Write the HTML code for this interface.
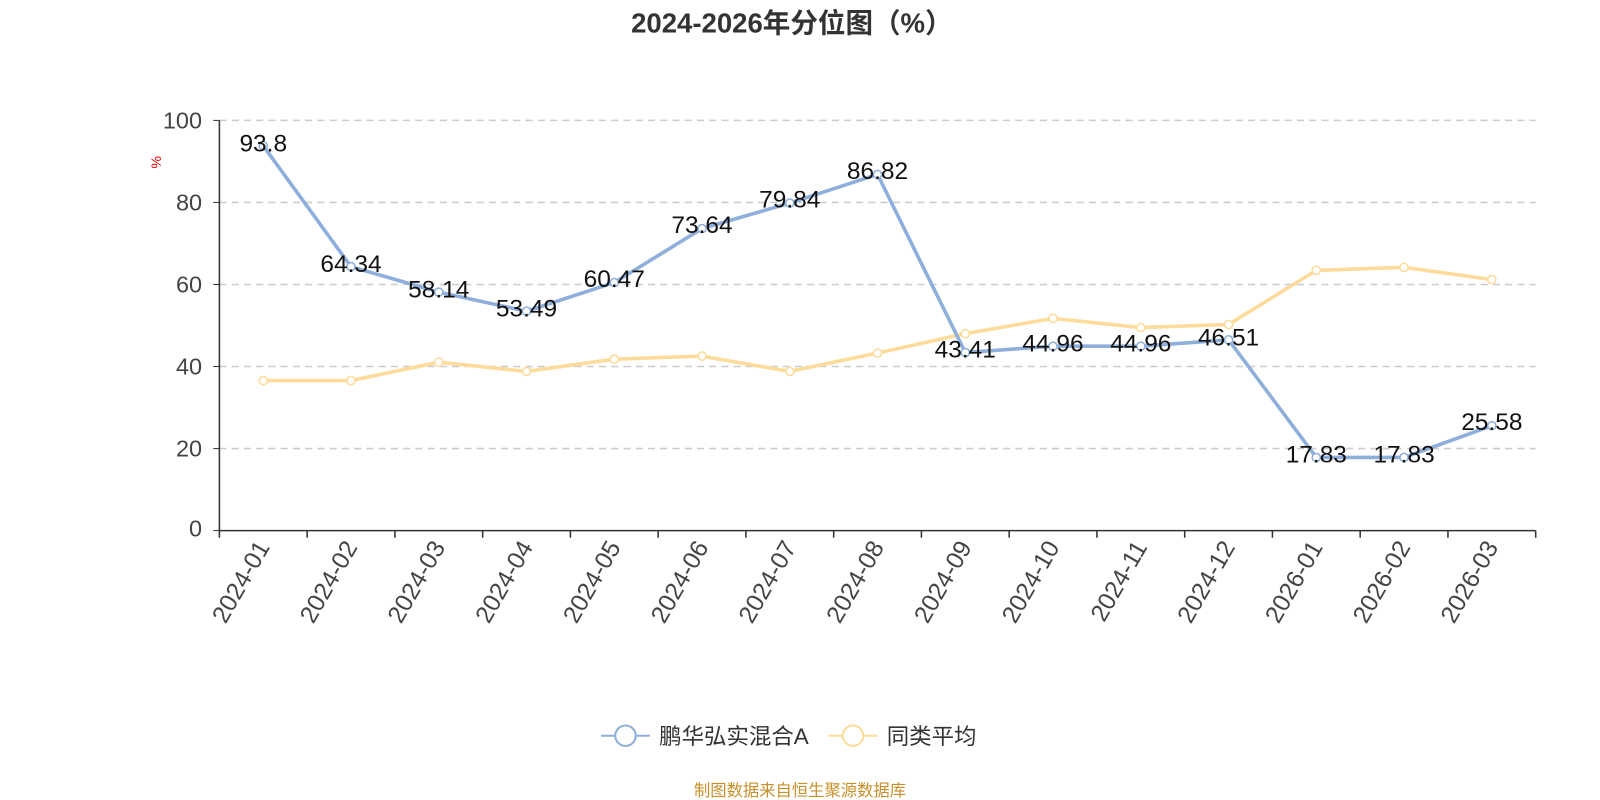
<!DOCTYPE html>
<html><head><meta charset="utf-8"><style>
body{margin:0;background:#fff;}
svg{display:block;font-family:"Liberation Sans","Noto Sans CJK SC",sans-serif;}
</style></head><body>
<svg width="1600" height="800" viewBox="0 0 1600 800">
<g transform="scale(1.0204)">
<text x="776" y="32" text-anchor="middle" font-size="27" font-weight="bold" fill="#333">2024-2026年分位图（%）</text>
<text x="158" y="159" font-size="14" fill="red" transform="rotate(-90 158 159)" text-anchor="middle">%</text>
<g stroke="#ccc" stroke-dasharray="7,5" stroke-width="1.5">
<line x1="215" x2="1505" y1="118" y2="118"/><line x1="215" x2="1505" y1="198.4" y2="198.4"/><line x1="215" x2="1505" y1="278.8" y2="278.8"/><line x1="215" x2="1505" y1="359.2" y2="359.2"/><line x1="215" x2="1505" y1="439.6" y2="439.6"/>
</g>
<g font-size="23" fill="#444" text-anchor="end" dominant-baseline="central">
<text x="198" y="118">100</text><text x="198" y="198.4">80</text><text x="198" y="278.8">60</text><text x="198" y="359.2">40</text><text x="198" y="439.6">20</text><text x="198" y="518">0</text>
</g>
<line x1="215" y1="118" x2="215" y2="520" stroke="#333" stroke-width="1.5"/>
<line x1="209" y1="118" x2="215" y2="118" stroke="#333"/><line x1="209" y1="198.4" x2="215" y2="198.4" stroke="#333"/><line x1="209" y1="278.8" x2="215" y2="278.8" stroke="#333"/><line x1="209" y1="359.2" x2="215" y2="359.2" stroke="#333"/><line x1="209" y1="439.6" x2="215" y2="439.6" stroke="#333"/><line x1="209" y1="520" x2="215" y2="520" stroke="#333"/>
<line x1="215" y1="520" x2="1505" y2="520" stroke="#333" stroke-width="1.5"/>
<g stroke="#333" stroke-width="1.5">
<line x1="215" x2="215" y1="520" y2="527"/><line x1="301" x2="301" y1="520" y2="527"/><line x1="387" x2="387" y1="520" y2="527"/><line x1="473" x2="473" y1="520" y2="527"/><line x1="559" x2="559" y1="520" y2="527"/><line x1="645" x2="645" y1="520" y2="527"/><line x1="731" x2="731" y1="520" y2="527"/><line x1="817" x2="817" y1="520" y2="527"/><line x1="903" x2="903" y1="520" y2="527"/><line x1="989" x2="989" y1="520" y2="527"/><line x1="1075" x2="1075" y1="520" y2="527"/><line x1="1161" x2="1161" y1="520" y2="527"/><line x1="1247" x2="1247" y1="520" y2="527"/><line x1="1333" x2="1333" y1="520" y2="527"/><line x1="1419" x2="1419" y1="520" y2="527"/><line x1="1505" x2="1505" y1="520" y2="527"/>
</g>
<g font-size="24" fill="#444" text-anchor="end">
<text transform="translate(265,536) rotate(-60)">2024-01</text>
<text transform="translate(351,536) rotate(-60)">2024-02</text>
<text transform="translate(437,536) rotate(-60)">2024-03</text>
<text transform="translate(523,536) rotate(-60)">2024-04</text>
<text transform="translate(609,536) rotate(-60)">2024-05</text>
<text transform="translate(695,536) rotate(-60)">2024-06</text>
<text transform="translate(781,536) rotate(-60)">2024-07</text>
<text transform="translate(867,536) rotate(-60)">2024-08</text>
<text transform="translate(953,536) rotate(-60)">2024-09</text>
<text transform="translate(1039,536) rotate(-60)">2024-10</text>
<text transform="translate(1125,536) rotate(-60)">2024-11</text>
<text transform="translate(1211,536) rotate(-60)">2024-12</text>
<text transform="translate(1297,536) rotate(-60)">2026-01</text>
<text transform="translate(1383,536) rotate(-60)">2026-02</text>
<text transform="translate(1469,536) rotate(-60)">2026-03</text>
</g>
<polyline fill="none" stroke="#fddb9a" stroke-width="3.5" points="258,373 344,373 430,355 516,364 602,352 688,349 774,364 860,346 946,327 1032,312 1118,321 1204,318 1290,265 1376,262 1462,274"/>
<g fill="#fff" stroke="#fddb9a" stroke-width="1.5">
<circle cx="258" cy="373" r="4"/><circle cx="344" cy="373" r="4"/><circle cx="430" cy="355" r="4"/><circle cx="516" cy="364" r="4"/><circle cx="602" cy="352" r="4"/><circle cx="688" cy="349" r="4"/><circle cx="774" cy="364" r="4"/><circle cx="860" cy="346" r="4"/><circle cx="946" cy="327" r="4"/><circle cx="1032" cy="312" r="4"/><circle cx="1118" cy="321" r="4"/><circle cx="1204" cy="318" r="4"/><circle cx="1290" cy="265" r="4"/><circle cx="1376" cy="262" r="4"/><circle cx="1462" cy="274" r="4"/>
</g>
<polyline fill="none" stroke="#8eaedb" stroke-width="3.5" points="258,142.9 344,261.4 430,286.3 516,305 602,276.9 688,224 774,199 860,171 946,345.5 1032,339.3 1118,339.3 1204,333 1290,448.3 1376,448.3 1462,417.2"/>
<g fill="#fff" stroke="#8eaedb" stroke-width="1.5">
<circle cx="258" cy="142.9" r="4"/><circle cx="344" cy="261.4" r="4"/><circle cx="430" cy="286.3" r="4"/><circle cx="516" cy="305" r="4"/><circle cx="602" cy="276.9" r="4"/><circle cx="688" cy="224" r="4"/><circle cx="774" cy="199" r="4"/><circle cx="860" cy="171" r="4"/><circle cx="946" cy="345.5" r="4"/><circle cx="1032" cy="339.3" r="4"/><circle cx="1118" cy="339.3" r="4"/><circle cx="1204" cy="333" r="4"/><circle cx="1290" cy="448.3" r="4"/><circle cx="1376" cy="448.3" r="4"/><circle cx="1462" cy="417.2" r="4"/>
</g>
<g font-size="24" fill="#111" text-anchor="middle" dominant-baseline="central">
<text x="258" y="141">93.8</text><text x="344" y="259">64.34</text><text x="430" y="284">58.14</text><text x="516" y="303">53.49</text><text x="602" y="274">60.47</text><text x="688" y="221">73.64</text><text x="774" y="196">79.84</text><text x="860" y="168">86.82</text><text x="946" y="343">43.41</text><text x="1032" y="337">44.96</text><text x="1118" y="337">44.96</text><text x="1204" y="331">46.51</text><text x="1290" y="446">17.83</text><text x="1376" y="446">17.83</text><text x="1462" y="414">25.58</text>
</g>
<line x1="589" y1="721" x2="637" y2="721" stroke="#8eaedb" stroke-width="2"/>
<circle cx="613" cy="721" r="10" fill="#fff" stroke="#8eaedb" stroke-width="2"/>
<text x="646" y="729" font-size="22" fill="#333">鹏华弘实混合A</text>
<line x1="812" y1="721" x2="860" y2="721" stroke="#fddb9a" stroke-width="2"/>
<circle cx="836" cy="721" r="10" fill="#fff" stroke="#fddb9a" stroke-width="2"/>
<text x="869" y="729" font-size="22" fill="#333">同类平均</text>
<text x="784" y="780" text-anchor="middle" font-size="16" fill="#c8902a">制图数据来自恒生聚源数据库</text>
</g>
</svg>
</body></html>
